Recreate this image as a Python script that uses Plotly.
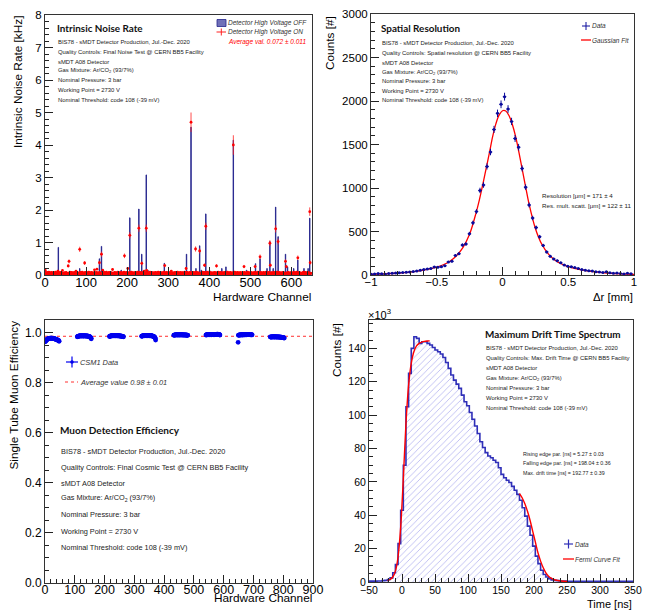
import plotly.graph_objects as go

W, H = 646, 611
def px(x): return x / W
def py(y): return 1 - y / H

FONT = "Liberation Sans"
TFONT = "Lato"

# ---------------- Panel 1: Intrinsic noise rate ----------------
n_channels = 648
# HV ON baseline, in units of 0.01 kHz (channels 0..647)
noise_on_base_centi = [
    6,4,7,3,5,8,4,6,3,9,5,4,7,6,3,5,8,4,6,5,3,7,4,6,
    5,9,4,3,6,7,5,12,4,6,3,5,8,4,6,7,3,5,14,4,6,5,3,7,
    4,6,5,8,3,6,4,5,6,4,7,5,9,3,6,4,8,5,6,3,7,4,6,5,
    8,3,6,12,4,7,5,6,3,5,4,7,6,3,8,5,4,6,9,3,5,6,4,7,
    3,5,8,4,6,5,3,7,4,6,9,5,4,7,3,6,5,8,4,6,3,5,7,4,
    16,6,5,3,8,4,18,5,7,3,6,5,4,8,6,3,5,7,4,6,15,5,3,8,
    4,6,7,3,5,9,4,6,5,3,7,4,8,5,6,3,4,7,5,6,17,4,3,6,
    5,8,4,6,3,7,5,4,6,9,3,5,7,4,6,5,8,3,6,4,7,5,3,6,
    9,4,5,7,3,6,4,8,5,20,6,3,7,4,5,6,8,3,9,4,6,5,7,3,
    6,5,4,8,3,7,6,4,5,9,3,6,4,7,5,8,3,6,4,5,7,3,6,8,
    4,12,5,7,3,6,4,14,8,5,3,6,7,4,5,9,3,6,4,8,5,6,3,7,
    5,4,6,3,8,5,7,4,6,3,5,9,4,6,7,3,5,8,4,6,5,3,7,4,
    6,9,4,5,3,7,6,4,8,5,3,6,4,7,5,6,3,8,4,12,6,3,5,7,
    4,6,5,3,8,4,7,5,6,3,9,4,5,7,6,3,4,8,5,6,3,7,4,5,
    7,3,6,4,9,5,3,6,4,8,5,7,3,6,4,5,8,3,6,4,7,5,3,6,
    4,8,5,3,7,6,4,5,9,3,6,4,7,5,3,6,8,4,5,6,3,7,4,9,
    5,6,3,8,4,7,5,6,3,4,9,5,6,3,7,4,5,8,3,6,4,7,5,3,
    6,4,7,5,3,8,6,4,5,3,7,4,6,9,5,3,6,4,8,5,7,3,4,6,
    5,7,3,6,4,8,5,3,6,4,7,5,9,3,6,4,5,7,3,8,4,6,5,3,
    7,4,6,5,3,9,4,6,7,3,5,4,8,6,3,5,7,4,6,3,8,5,4,6,
    3,6,5,7,4,8,3,6,5,4,7,3,6,9,5,4,6,3,7,5,4,8,6,3,
    5,4,7,6,3,5,8,4,6,3,7,5,4,6,9,3,5,7,4,6,3,8,5,4,
    6,3,5,8,4,7,5,3,6,4,9,5,3,7,4,6,5,8,3,6,4,5,7,3,
    4,7,6,3,5,8,4,6,5,3,7,4,6,9,3,5,4,8,6,3,5,7,4,6,
    5,3,8,4,6,7,3,5,4,9,6,3,5,7,4,6,8,3,5,4,6,7,3,5,
    7,4,5,6,3,8,5,4,7,3,6,5,9,4,3,6,7,5,4,8,3,6,5,4,
    6,5,3,7,4,9,6,3,5,8,4,6,3,7,5,4,6,8,3,5,7,4,6,5,
]
noise_on_base_err = 0.025
on_spike_ch  = [0, 56, 58, 84, 96, 132, 137, 193, 206, 228, 235, 246, 291, 343, 355, 366, 376, 388, 391,
                417, 458, 484, 511, 523, 547, 548, 561, 567, 585, 587, 615, 644, 645]
on_spike_val = [0.15, 0.28, 0.42, 0.79, 0.37, 0.38, 0.64, 0.59, 1.22, 1.44, 0.36, 1.44, 0.29, 0.20, 4.70, 0.80, 0.74, 0.30, 1.50,
                0.28, 4.00, 0.26, 0.26, 0.56, 0.98, 0.30, 1.42, 1.03, 0.42, 0.26, 0.53, 1.95, 0.38]
on_spike_err = [0.03, 0.05, 0.06, 0.08, 0.06, 0.06, 0.08, 0.07, 0.10, 0.11, 0.06, 0.11, 0.05, 0.04, 0.30, 0.08, 0.08, 0.05, 0.11,
                0.05, 0.30, 0.05, 0.05, 0.07, 0.09, 0.05, 0.11, 0.09, 0.06, 0.05, 0.07, 0.13, 0.06]
off_ch  = [0, 32, 84, 132, 137, 185, 206, 228, 235, 246, 250, 290, 300, 320, 344, 355, 367, 376, 380, 391, 400,
           430, 440, 458, 490, 512, 523, 540, 547, 555, 561, 567, 585, 590, 605, 615, 630, 640, 644]
off_val = [0.20, 0.85, 0.20, 0.50, 0.88, 0.15, 1.76, 2.03, 0.64, 3.08, 0.15, 0.36, 0.10, 0.10, 0.64, 4.55, 0.20, 0.90, 0.15, 1.88, 0.15,
           0.20, 0.25, 4.15, 0.15, 0.35, 0.50, 0.20, 1.03, 0.20, 2.09, 1.18, 0.64, 0.25, 0.20, 0.46, 0.20, 0.20, 1.75]

# ---------------- Panel 2: Spatial resolution ----------------
dr_first_center = -0.999
dr_bin_width = 0.0267
spatial_counts = [10,12,16,14,10,18,20,22,25,28,32,35,40,45,55,62,70,75,91,90,95,107,150,158,225,
                  245,344,356,474,600,730,972,1035,1248,1414,1673,1858,1962,2050,1908,1765,1569,1469,1225,1010,
                  805,655,545,440,340,265,215,185,165,140,115,100,95,85,75,62,55,50,45,38,35,30,36,25,20,22,18,12,20,14]
fit_dr = [-1.0,-0.9,-0.8,-0.7,-0.6,-0.5,-0.45,-0.4,-0.35,-0.3,-0.25,-0.2,-0.175,-0.15,-0.125,-0.1,-0.075,-0.05,-0.025,0.0,
          0.025,0.05,0.075,0.1,0.125,0.15,0.175,0.2,0.25,0.3,0.35,0.4,0.45,0.5,0.6,0.7,0.8,0.9,1.0]
fit_counts = [7,12,20,33,55,90,118,158,222,318,470,720,870,1040,1220,1400,1590,1740,1840,1888,
              1885,1830,1730,1590,1410,1215,1020,830,535,350,240,170,126,96,58,35,21,12,7]

# ---------------- Panel 3: Muon detection efficiency ----------------
eff_group_start = [0, 108, 216, 324, 432, 540, 648, 756]
eff_group_milli = [
    [963,965,967,968,969,971,972,973,974,975,975,976,976,977,976,977,978,977,978,978,977,978,978,977,
     978,977,977,976,977,976,976,975,975,974,975,974,973,973,972,972,971,971,970,969,969,968,967,965],
    [983,984,985,985,986,986,987,986,987,987,986,987,988,987,986,987,987,988,987,986,987,987,986,987,
     988,987,987,986,987,986,987,987,986,986,987,986,985,986,985,985,984,984,983,982,981,979,977,975],
    [984,985,986,986,987,986,987,988,987,987,988,987,988,988,987,988,987,988,988,987,988,987,988,988,
     987,988,987,987,988,987,987,988,987,986,987,987,986,986,987,986,986,985,986,985,985,984,984,983],
    [985,986,986,987,987,988,987,988,988,987,988,988,989,988,988,987,988,988,989,988,988,987,988,988,
     989,988,987,988,988,987,988,987,988,987,987,986,987,986,986,985,985,984,983,982,981,979,976,970],
    [989,990,990,991,990,991,991,990,991,991,992,991,991,990,991,991,992,991,990,991,991,991,992,991,
     990,991,991,992,991,991,990,991,991,990,991,991,990,991,990,991,990,990,991,990,990,989,990,989],
    [990,991,991,992,991,992,992,991,992,992,993,992,992,991,992,992,993,992,991,992,992,993,992,992,
     993,992,992,991,992,993,992,992,993,992,992,993,993,994,993,993,994,993,993,992,993,992,991,990],
    [961,989,990,990,991,990,991,991,990,991,991,992,991,991,990,991,992,991,991,992,991,991,992,991,
     992,992,991,992,992,991,992,992,993,992,992,993,992,992,993,992,992,991,992,992,991,992,991,991],
    [983,982,982,983,982,983,983,982,983,983,984,983,982,983,983,982,983,984,983,982,983,983,982,983,
     982,983,983,982,982,983,982,982,983,982,981,982,982,981,982,981,981,980,981,980,980,979,979,978],
]
eff_err = 0.003
eff_average = 0.985

# ---------------- Panel 4: Maximum drift time spectrum ----------------
t_first_edge = -50
t_bin_width = 4
drift_counts_k = [0.5,0.5,0.5,0.6,0.6,0.8,1.0,1.5,2.5,5.5,10.5,23,43,70,105,125,140,147,146,143,
                  144,144,143,142,140.5,139,138,136.6,134.5,131.5,128,124,121,118.6,116,112,108,105.6,101.6,97.5,
                  93.5,89,84,80.6,77.5,75.5,74.5,73,71.6,68.5,64.5,62.5,61,59.6,57.3,55,52.5,49,44.5,39.5,
                  33.5,28,21.5,15.5,11,7,4.5,3,2,1.3,1.0,0.8,0.6,0.5,0.5,
                  0.4,0.4,0.4,0.4,0.4,0.4,0.4,0.4,0.4,0.4,0.4,0.4,0.4,0.4,0.4,0.4,0.4,0.4,0.4,0.4,0.4,0.4,0.4,0.4,0.4]
fit_t_rise = [-22,-18,-14,-10,-6,-2,2,6,10,14,18,22,26,30,34,38,42]
fit_rise_k = [0.8,1.5,3,6.5,15,33,62,95,118,131,138,141.5,143,143.8,144.2,144.4,144.5]
fit_t_fall = [178,182,186,190,194,198,202,206,210,214,218,222,226,230,236,242,250]
fit_fall_k = [53,50.5,47,42.5,37,30.5,24,17.5,12.5,8.5,5.5,3.5,2.3,1.5,0.9,0.6,0.4]

# ================= build =================
fig = go.Figure()

# Panel 1
channels = list(range(n_channels))
on_vals = [v / 100 for v in noise_on_base_centi]
on_err = [noise_on_base_err] * n_channels
for c, v, e in zip(on_spike_ch, on_spike_val, on_spike_err):
    on_vals[c] = v
    on_err[c] = e
off_vals = [0.0] * n_channels
for c, v in zip(off_ch, off_val):
    off_vals[c] = v

fig.add_trace(go.Bar(x=[c + 0.5 for c in channels], y=off_vals, width=1, xaxis="x", yaxis="y",
                     marker=dict(color="#6464b4", line=dict(color="#23238c", width=0.9)), showlegend=False))
fig.add_trace(go.Scatter(x=[c + 0.5 for c in channels], y=on_vals, mode="markers", xaxis="x", yaxis="y",
                         marker=dict(color="#ff0000", size=2.8),
                         error_y=dict(type="data", array=on_err, color="#ff2020", thickness=0.8, width=0),
                         error_x=dict(type="constant", value=0.5, color="#ff2020", thickness=0.8, width=0),
                         showlegend=False))

# Panel 2
dr_centers = [dr_first_center + dr_bin_width * k for k in range(len(spatial_counts))]
fig.add_trace(go.Scatter(x=fit_dr, y=fit_counts, mode="lines", line=dict(color="#ff0000", width=1.3, shape="spline"),
                         xaxis="x2", yaxis="y2", showlegend=False))
fig.add_trace(go.Scatter(x=dr_centers, y=spatial_counts, mode="markers", xaxis="x2", yaxis="y2",
                         marker=dict(color="#0a0a9c", size=3),
                         error_y=dict(type="sqrt", color="#0a0a9c", thickness=1, width=0),
                         error_x=dict(type="constant", value=dr_bin_width / 2, color="#0a0a9c", thickness=1, width=0),
                         showlegend=False))

# Panel 3
fig.add_trace(go.Scatter(x=[0, 900], y=[eff_average, eff_average], mode="lines", xaxis="x3", yaxis="y3",
                         line=dict(color="#ff3030", width=1, dash="dot"), showlegend=False))
eff_x, eff_y = [], []
for start, vals in zip(eff_group_start, eff_group_milli):
    for i, v in enumerate(vals):
        eff_x.append(start + i + 0.5)
        eff_y.append(v / 1000)
fig.add_trace(go.Scatter(x=eff_x, y=eff_y, mode="markers", xaxis="x3", yaxis="y3",
                         marker=dict(color="#0000ee", size=4.8),
                         error_y=dict(type="constant", value=eff_err, color="#0000ee", thickness=1, width=0),
                         error_x=dict(type="constant", value=0.5, color="#0000ee", thickness=1, width=0),
                         showlegend=False))

# Panel 4
t_edges = [t_first_edge + t_bin_width * k for k in range(len(drift_counts_k) + 1)]
fig.add_trace(go.Scatter(x=t_edges, y=drift_counts_k + [drift_counts_k[-1]], mode="lines", line_shape="hv",
                         xaxis="x4", yaxis="y4", fill="tozeroy", fillcolor="rgba(0,0,0,0)",
                         fillpattern=dict(shape="/", fgcolor="#7676e4", bgcolor="white", size=4.5, solidity=0.2),
                         line=dict(color="#2f2fb8", width=1.6), showlegend=False))
fig.add_trace(go.Scatter(x=fit_t_rise + [None] + fit_t_fall, y=fit_rise_k + [None] + fit_fall_k, mode="lines",
                         line=dict(color="#ff0000", width=1.4, shape="spline"), connectgaps=False,
                         xaxis="x4", yaxis="y4", showlegend=False))

# ---------------- axes ----------------
def axis(domain, rng, dtick, mdtick, size, anchor, fmt=None, tick0=None, standoff=0):
    d = dict(domain=domain, range=rng, dtick=dtick, ticks="inside", ticklen=8, tickcolor="#222",
             showline=True, mirror=True, linecolor="#333", linewidth=1, showgrid=False, zeroline=False,
             automargin=False, ticklabelstandoff=standoff,
             tickfont=dict(family=FONT, size=size, color="#000"), anchor=anchor,
             minor=dict(dtick=mdtick, ticks="inside", ticklen=4, tickcolor="#222", showgrid=False))
    if fmt:
        d["tickformat"] = fmt
    if tick0 is not None:
        d["tick0"] = tick0
    return d

fig.update_layout(
    xaxis=axis([px(45), px(312)], [0, 650], 100, 20, 13, "y", standoff=-5),
    yaxis=axis([py(275), py(15)], [0, 8], 1, 0.2, 11.5, "x"),
    xaxis2=axis([px(371), px(634)], [-1, 1], 0.5, 0.1, 11.5, "y2", standoff=-4),
    yaxis2=axis([py(275), py(14)], [0, 3000], 500, 100, 11.5, "x2"),
    xaxis3=axis([px(45), px(313)], [0, 900], 100, 20, 12.5, "y3", standoff=-5),
    yaxis3=axis([py(583), py(320)], [0, 1.05], 0.2, 0.05, 12, "x3", fmt=".1f"),
    xaxis4=axis([px(369), px(633)], [-50, 350], 50, 10, 10.5, "y4", tick0=0, standoff=-2),
    yaxis4=axis([py(582), py(320)], [0, 157], 20, 5, 10.5, "x4"),
)

annotations = []
shapes = []
def txt(x, y, s, size, color="#222", bold=False, italic=False, anchor="left", family=FONT, angle=0, yanchor="middle"):
    if bold:
        s = "<b>" + s + "</b>"
    if italic:
        s = "<i>" + s + "</i>"
    annotations.append(dict(x=px(x), y=py(y), xref="paper", yref="paper", text=s, showarrow=False,
                            xanchor=anchor, yanchor=yanchor, textangle=angle, borderpad=0,
                            font=dict(size=size, color=color, family=family)))

def line(x0, y0, x1, y1, color, width=1, dash=None):
    shapes.append(dict(type="line", xref="paper", yref="paper", x0=px(x0), y0=py(y0), x1=px(x1), y1=py(y1),
                       line=dict(color=color, width=width, dash=dash)))

common = ["BIS78 - sMDT Detector Production, Jul.-Dec. 2020", None, "sMDT A08 Detector",
          "Gas Mixture: Ar/CO<sub>2</sub> (93/7%)", "Nominal Pressure: 3 bar", "Working Point = 2730 V",
          "Nominal Threshold: code 108 (-39 mV)"]

def block(x, ytitle, title, tsize, ylines, qc, bsize):
    txt(x - 1, ytitle, title, tsize, color="#111", bold=True, family=TFONT)
    for yy, s in zip(ylines, common):
        txt(x, yy, qc if s is None else s, bsize)

# Panel 1 text
block(57, 28, "Intrinsic Noise Rate", 9.9, [42, 52, 62, 71, 80, 90, 100],
      "Quality Controls: Final Noise Test @ CERN BB5 Facility", 5.9)
txt(227, 23, "Detector High Voltage OFF", 6.5, italic=True, color="#333")
txt(227, 32, "Detector High Voltage ON", 6.5, italic=True, color="#333")
txt(227, 42, "Average val. 0.072 ± 0.011", 6.5, italic=True, color="#ff0000")
shapes.append(dict(type="rect", xref="paper", yref="paper", x0=px(217), x1=px(226), y0=py(26.5), y1=py(19.5),
                   fillcolor="#7070b8", line=dict(color="#23238c", width=0.8)))
line(216.5, 32, 226, 32, "#ff2020", 1)
line(221.3, 28.5, 221.3, 35.5, "#ff2020", 1)
txt(18, 15, "Intrinsic Noise Rate [kHz]", 11.8, color="#000", angle=-90, anchor="center", yanchor="top")
txt(312, 297, "Hardware Channel", 11.8, color="#000", anchor="right")

# Panel 2 text
block(381, 28, "Spatial Resolution", 9.9, [43, 53, 63, 72, 81, 91, 100],
      "Quality Controls: Spatial resolution @ CERN BB5 Facility", 5.9)
txt(591, 26, "Data", 6.5, italic=True, color="#333")
txt(591, 40, "Gaussian Fit", 6.5, italic=True, color="#333")
line(582, 26, 590, 26, "#0a0a9c", 1)
line(586, 22, 586, 30, "#0a0a9c", 1)
line(581, 40, 591, 40, "#ff0000", 1.3)
txt(541, 195, "Resolution [μm] = 171 ± 4", 6.2)
txt(541, 205, "Res. mult. scatt. [μm] = 122 ± 11", 6.2)
txt(330, 15, "Counts [#]", 11.8, color="#000", angle=-90, anchor="center", yanchor="top")
txt(634, 297, "Δr [mm]", 11.4, color="#000", anchor="right")

# Panel 3 text
block(60, 430, "Muon Detection Efficiency", 10, [451, 467, 483, 498, 514, 531, 547],
      "Quality Controls: Final Cosmic Test @ CERN BB5 Facility", 7.35)
txt(79, 362, "CSM1 Data", 7.4, italic=True, color="#333")
txt(79, 382, "Average value 0.98 ± 0.01", 7.4, italic=True, color="#333")
line(66, 362, 78, 362, "#0000ee", 1.2)
line(72, 356.5, 72, 367.5, "#0000ee", 1.2)
shapes.append(dict(type="circle", xref="paper", yref="paper", x0=px(70.2), x1=px(73.8), y0=py(363.8), y1=py(360.2),
                   fillcolor="#0000ee", line=dict(color="#0000ee", width=0)))
line(65, 382, 78, 382, "#ff3030", 1, "dot")
txt(13, 320, "Single Tube Muon Efficiency", 11.8, color="#000", angle=-90, anchor="center", yanchor="top")
txt(313, 598, "Hardware Channel", 11.8, color="#000", anchor="right")

# Panel 4 text
block(485, 334, "Maximum Drift Time Spectrum", 9.9, [348, 358, 368, 378, 388, 398, 408],
      "Quality Controls: Max. Drift Time @ CERN BB5 Facility", 5.9)
txt(522, 454, "Rising edge par. [ns] = 5.27 ± 0.03", 5.3)
txt(522, 463, "Falling edge par. [ns] = 198.04 ± 0.36", 5.3)
txt(522, 473, "Max. drift time [ns] = 192.77 ± 0.39", 5.3)
txt(574, 544, "Data", 6.5, italic=True, color="#333")
txt(574, 559, "Fermi Curve Fit", 6.5, italic=True, color="#333")
line(564, 544, 573, 544, "#2f2fb8", 1.2)
line(568.5, 539.5, 568.5, 548.5, "#2f2fb8", 1.2)
line(563, 559, 574, 559, "#ff0000", 1.3)
txt(367, 314, "×10<sup>3</sup>", 11, color="#000", anchor="left")
txt(337, 322, "Counts [#]", 11.8, color="#000", angle=-90, anchor="center", yanchor="top")
txt(633, 604, "Time [ns]", 11, color="#000", anchor="right")

fig.update_layout(width=W, height=H, autosize=False, margin=dict(l=0, r=0, t=0, b=0),
                  paper_bgcolor="white", plot_bgcolor="white", showlegend=False,
                  annotations=annotations, shapes=shapes, font=dict(family=FONT))

fig.write_html("out.html", config={"displayModeBar": False},
               post_script="document.body.style.margin='0';document.body.style.padding='0';")
